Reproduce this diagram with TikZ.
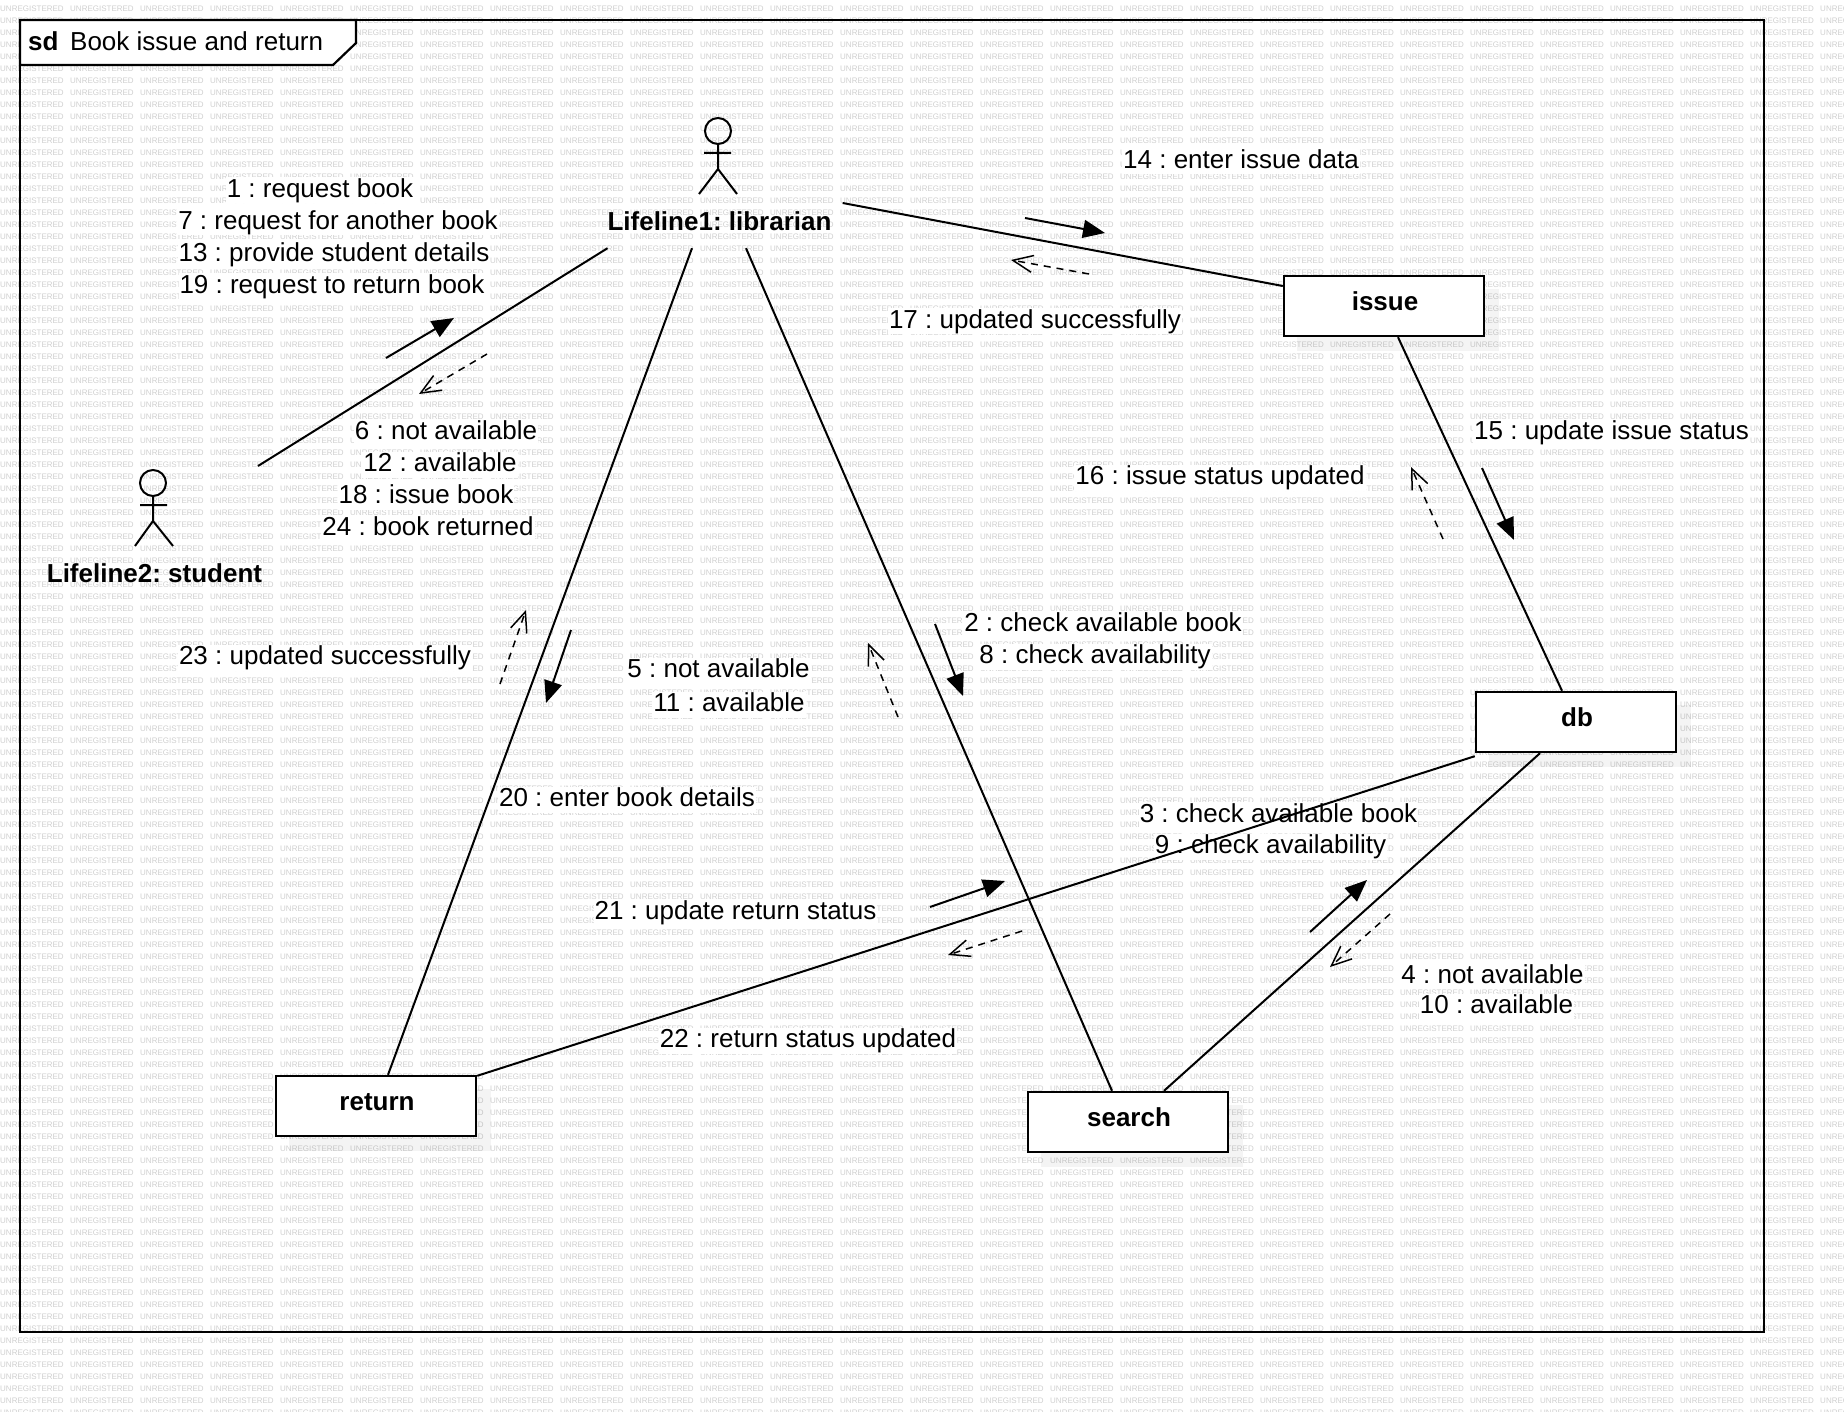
\documentclass[tikz,border=0pt]{standalone}
\usepackage{fontspec}
\setmainfont{Liberation Sans}
\usetikzlibrary{arrows.meta}
\definecolor{wmgray}{HTML}{CFCFCF}
\tikzset{
  msg/.style={fill=white,inner xsep=1pt,inner ysep=0pt,text height=20pt,text depth=6pt,font=\fontsize{26}{32}\selectfont},
  objbox/.style={draw=black,line width=2.4pt,fill=white,minimum width=200pt,minimum height=60pt,inner sep=0pt},
  objtext/.style={font=\fontsize{26}{32}\selectfont\bfseries,inner sep=0pt},
  actorlabel/.style={inner xsep=1pt,inner ysep=0pt,text height=20pt,text depth=6pt,font=\fontsize{26}{32}\selectfont\bfseries},
  link/.style={draw=black,line width=2pt},
  call/.style={draw=black,line width=2pt,-{Triangle[length=22pt,width=18pt]}},
  reply/.style={draw=black,line width=1.5pt,dash pattern=on 7pt off 6pt,-{Straight Barb[length=20pt,width=17pt,line width=1.5pt]}},
  wm/.style={anchor=west,inner sep=0pt,text=wmgray,font=\fontsize{8}{8}\selectfont},
  figure/.style={draw=black,line width=2pt},
}
\newcommand{\softshadow}[1]{%
  \fill[black,opacity=.045] ([xshift=14pt,yshift=-14pt]#1.south west) rectangle ([xshift=14pt,yshift=-14pt]#1.north east);
}
\frenchspacing
\begin{document}
\begin{tikzpicture}[x=1pt,y=-1pt]
\useasboundingbox (0,0) rectangle (1844,1412);
\begin{scope}
\clip (0,0) rectangle (1844,1412);
\foreach \r in {0,...,117}{
  \foreach \c in {0,...,26}{
    \node[wm] at (\c*70,9+\r*12) {UNREGISTERED};
  }
}
\end{scope}
% frame
\draw[black,line width=2.2pt] (20,20) rectangle (1764,1332);
\draw[black,line width=2.2pt,fill=white] (20,20) -- (356,20) -- (356,43) -- (333,65) -- (20,65) -- cycle;
\node[anchor=base west,inner sep=0pt,font=\fontsize{26}{32}\selectfont\bfseries] (sd) at (28,51) {sd};
\node[anchor=base west,inner sep=0pt,font=\fontsize{26}{32}\selectfont] (title) at (70,51) {Book issue and return};
% labels
\node[msg] (m1) at (320,190.5) {1 : request book};
\node[msg] (m7) at (338,222.5) {7 : request for another book};
\node[msg] (m13) at (334,254.5) {13 : provide student details};
\node[msg] (m19) at (332,286.5) {19 : request to return book};
\node[msg] (m6) at (446,432.5) {6 : not available};
\node[msg] (m12) at (440,464.5) {12 : available};
\node[msg] (m18) at (426,496.5) {18 : issue book};
\node[msg] (m24) at (428,528.5) {24 : book returned};
\node[msg] (m23) at (325,657.5) {23 : updated successfully};
\node[msg] (m5) at (718.5,670.5) {5 : not available};
\node[msg] (m11) at (729,704.5) {11 : available};
\node[msg] (m20) at (627,799.5) {20 : enter book details};
\node[msg] (m21) at (735.5,912.5) {21 : update return status};
\node[msg] (m22) at (808,1040.5) {22 : return status updated};
\node[msg] (m2) at (1103,624) {2 : check available book};
\node[msg] (m8) at (1095,656.5) {8 : check availability};
\node[msg] (m3) at (1278.5,815) {3 : check available book};
\node[msg] (m9) at (1270.5,846.5) {9 : check availability};
\node[msg] (m4) at (1492.5,976) {4 : not available};
\node[msg] (m10) at (1496.5,1006.5) {10 : available};
\node[msg] (m14) at (1241,161.5) {14 : enter issue data};
\node[msg] (m17) at (1035,321.5) {17 : updated successfully};
\node[msg] (m15) at (1611.5,432.5) {15 : update issue status};
\node[msg] (m16) at (1220,477.5) {16 : issue status updated};
% object boxes
\node[objbox,draw=none,fill=none] (issue) at (1384,306) {};
\node[objbox,draw=none,fill=none] (db) at (1576,722) {};
\node[objbox,draw=none,fill=none] (ret) at (376,1106) {};
\node[objbox,draw=none,fill=none] (search) at (1128,1122) {};
\softshadow{issue}\softshadow{db}\softshadow{ret}\softshadow{search}
\node[objbox] at (issue) {};
\node[objbox] at (db) {};
\node[objbox] at (ret) {};
\node[objbox] at (search) {};
\node[objtext] (issuet) at (1385,301) {issue};
\node[objtext] (dbt) at (1577,717) {db};
\node[objtext] (rett) at (377,1102) {return};
\node[objtext] (searcht) at (1129,1117) {search};
% actors
\node[actorlabel] (lib) at (719.5,223.5) {Lifeline1: librarian};
\node[actorlabel] (stu) at (154.5,575) {Lifeline2: student};
\draw[figure] (718,131) circle (13);
\draw[figure] (718,144) -- (718,169) (704,153) -- (731,153) (718,169) -- (699,194) (718,169) -- (737,194);
\draw[figure] (153,483) circle (13);
\draw[figure] (153,496) -- (153,521) (140,505) -- (167,505) (153,521) -- (135,546) (153,521) -- (173,546);
% links
\coordinate (stuEnd) at (258,466);
\draw[link] (stuEnd) -- ([xshift=-112pt,yshift=-11.5pt]lib.south);
\draw[link] ([xshift=-27.5pt,yshift=-11.5pt]lib.south) -- ([xshift=12pt]ret.north);
\draw[link] ([xshift=26.5pt,yshift=-11.5pt]lib.south) -- ([xshift=-16pt]search.north);
\draw[link] ([xshift=10pt,yshift=20.5pt]lib.east) -- ([yshift=20pt]issue.west);
\draw[link] ([xshift=14pt]issue.south) -- ([xshift=-14pt]db.north);
\draw[link] ([yshift=-3pt]db.south west) -- ([yshift=-1pt]ret.north east);
\draw[link] ([xshift=-36pt]db.south) -- ([xshift=36pt]search.north);
% messages
\coordinate (a1s) at (386,358); \coordinate (a1e) at (454,318);
\coordinate (a6s) at (487,354); \coordinate (a6e) at (419,394);
\coordinate (a2s) at (935,624); \coordinate (a2e) at (963,696);
\coordinate (a5s) at (898,717); \coordinate (a5e) at (868,643);
\coordinate (a20s) at (571,630); \coordinate (a20e) at (546,703);
\coordinate (a23s) at (500,684); \coordinate (a23e) at (526,610);
\coordinate (a14s) at (1025,218); \coordinate (a14e) at (1105,233);
\coordinate (a17s) at (1089,274); \coordinate (a17e) at (1011,260);
\coordinate (a15s) at (1482,468); \coordinate (a15e) at (1514,540);
\coordinate (a16s) at (1443,539); \coordinate (a16e) at (1411,467);
\coordinate (a21s) at (930,907); \coordinate (a21e) at (1005,881);
\coordinate (a22s) at (1022,931); \coordinate (a22e) at (948,955);
\coordinate (a3s) at (1310,932); \coordinate (a3e) at (1367,880);
\coordinate (a4s) at (1390,914); \coordinate (a4e) at (1330,967);
\draw[call] (a1s) -- (a1e);
\draw[reply] (a6s) -- (a6e);
\draw[call] (a2s) -- (a2e);
\draw[reply] (a5s) -- (a5e);
\draw[call] (a20s) -- (a20e);
\draw[reply] (a23s) -- (a23e);
\draw[call] (a14s) -- (a14e);
\draw[reply] (a17s) -- (a17e);
\draw[call] (a15s) -- (a15e);
\draw[reply] (a16s) -- (a16e);
\draw[call] (a21s) -- (a21e);
\draw[reply] (a22s) -- (a22e);
\draw[call] (a3s) -- (a3e);
\draw[reply] (a4s) -- (a4e);
\end{tikzpicture}
\end{document}
